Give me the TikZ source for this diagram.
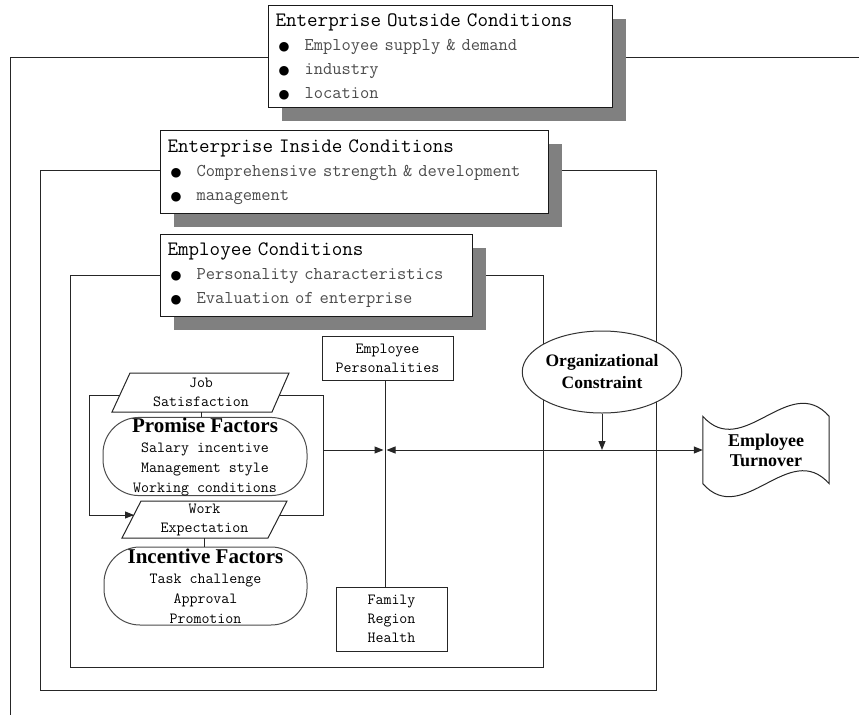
\documentclass[tikz,border=0pt]{standalone}
\usepackage{fontspec}
\newfontfamily\timesfont{Liberation Serif}
\newfontfamily\symfont{DejaVu Sans}
\usetikzlibrary{arrows.meta, shadows, shapes.geometric}

\newcommand{\condtitle}[1]{{\fontsize{20.5}{24}\selectfont #1}}
\newcommand{\conditem}[1]{\hspace*{3pt}\makebox[26pt][l]{\symfont\fontsize{12.5}{24}\selectfont ●}{\color{black!70}#1}}
\newcommand{\factorhead}[1]{{\timesfont\bfseries\fontsize{21}{20}\selectfont #1}}

\tikzset{
  >={Triangle[length=9pt,width=7pt]},
  frame/.style={line width=1pt, draw=black!85},
  condbox/.style={draw=black!90, fill=white, line width=1pt, anchor=north west,
    align=left, inner xsep=7pt, inner ysep=0pt,
    drop shadow={shadow xshift=13pt, shadow yshift=-13pt, fill=black!50, opacity=1},
    font={\ttfamily\fontsize{18}{24}\selectfont}},
  flowtext/.style={align=center, inner sep=0pt, font={\ttfamily\fontsize{15.5}{19}\selectfont}},
  flowbox/.style={flowtext, draw=black!85, fill=white, line width=1pt},
  stadium/.style={flowtext, draw=black!70, fill=white, line width=1pt, rounded corners=36pt,
    font={\ttfamily\fontsize{15.5}{20}\selectfont}},
  bigtext/.style={align=center, inner sep=0pt, font={\timesfont\bfseries\fontsize{17.5}{22}\selectfont}}
}

\begin{document}
\begin{tikzpicture}[x=1pt, y=-1pt]
    \useasboundingbox (0,0) rectangle (859,715);

    % nested frames
    \draw[frame] (859,57) -- (10,57) -- (10,715);
    \draw[frame] (40,170) rectangle (656,690);
    \draw[frame] (70,275) rectangle (543,667);

    % condition boxes
    \node[condbox, text width=330pt, minimum height=102pt] (outside) at (268,5)
        {\condtitle{Enterprise Outside Conditions}\\
         \conditem{Employee supply \& demand}\\
         \conditem{industry}\\
         \conditem{location}};
    \node[condbox, text width=374pt, minimum height=83pt] (inside) at (160,130)
        {\condtitle{Enterprise Inside Conditions}\\
         \conditem{Comprehensive strength \& development}\\
         \conditem{management}};
    \node[condbox, text width=298pt, minimum height=82pt] (empcond) at (160,234)
        {\condtitle{Employee Conditions}\\
         \conditem{Personality characteristics}\\
         \conditem{Evaluation of enterprise}};

    % feedback loop
    \draw[frame] (89,395) rectangle (323,515);
    \coordinate (loopBL) at (89,515);
    \coordinate (loopR) at (323,450);
    \coordinate (weIn) at (134,515);
    \draw[frame, ->] (loopBL) -- (weIn);

    % job satisfaction
    \filldraw[frame, fill=white] (112,412) -- (130,373) -- (289,373) -- (272,412) -- cycle;
    \node[flowtext, minimum height=39pt] (js) at (201,392.5) {Job\\Satisfaction};

    % promise factors
    \node[stadium, minimum width=204pt, minimum height=75pt] (pf) at (205,456.5)
        {\factorhead{Promise Factors}\\Salary incentive\\Management style\\Working conditions};
    \draw[frame] (js.south) -- (js.south |- pf.north);

    % work expectation
    \filldraw[frame, fill=white] (122,538) -- (141,501) -- (287,501) -- (268,538) -- cycle;
    \node[flowtext, minimum height=37pt] (we) at (204.5,519.5) {Work\\Expectation};

    % incentive factors
    \node[stadium, minimum width=203pt, minimum height=78pt] (incf) at (205.5,586)
        {\factorhead{Incentive Factors}\\Task challenge\\Approval\\Promotion};
    \draw[frame] (we.south) -- (we.south |- incf.north);

    % personalities and family
    \node[flowbox, minimum width=131pt, minimum height=44pt] (ep) at (387.5,358) {Employee\\Personalities};
    \node[flowbox, minimum width=111pt, minimum height=64pt] (fam) at (391.5,619) {Family\\Region\\Health};
    \coordinate (hub) at (385,450);
    \draw[frame] (hub |- ep.south) -- (hub |- fam.north);

    % constraint and turnover
    \node[bigtext, ellipse, draw=black!80, fill=white, line width=1pt,
          minimum width=131pt, minimum height=82pt] (oc) at (602,372) {Organizational\\Constraint};
    \node[bigtext, font={\timesfont\bfseries\fontsize{18}{20}\selectfont},
          minimum width=126pt, minimum height=67pt] (turn) at (766,450) {Employee\\Turnover};
    \draw[frame] (turn.north west) .. controls +(40,45) and +(-40,-45) .. (turn.north east)
        -- (turn.south east) .. controls +(-40,-45) and +(40,45) .. (turn.south west) -- cycle;

    % main flow
    \draw[frame, ->, shorten >=1.5pt] (loopR) -- (hub);
    \draw[frame, <->, shorten <=1.5pt] (hub) -- (turn.west);
    \draw[frame, ->] (oc) -- (oc |- hub);
\end{tikzpicture}
\end{document}
